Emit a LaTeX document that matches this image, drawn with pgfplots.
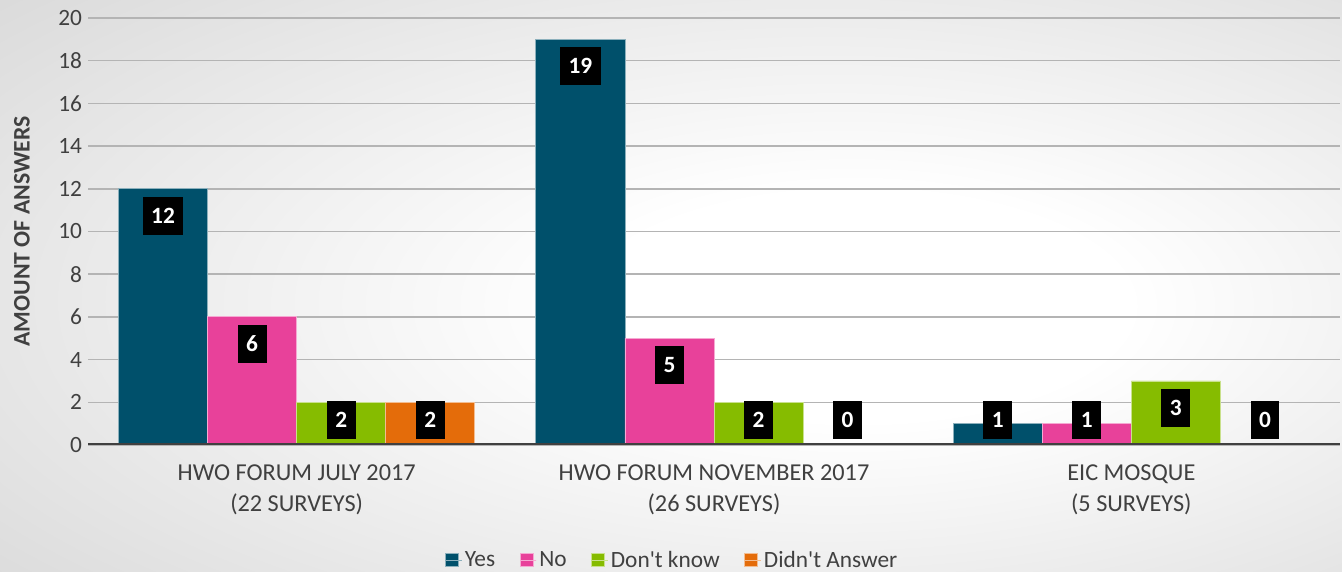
\documentclass[border=0pt]{standalone}
\usepackage{pgfplots}
\pgfplotsset{compat=1.18}
\usepackage{pgfplotstable}
\usepackage{fontspec}
\setmainfont{Carlito}[Ligatures=TeXOff]
\definecolor{cyes}{HTML}{00506B}
\definecolor{cno}{HTML}{E8419A}
\definecolor{cdk}{HTML}{86BC00}
\definecolor{cda}{HTML}{E46C0A}
\definecolor{txtgray}{HTML}{404040}
\definecolor{gridgray}{HTML}{B4B4B4}
\pgfdeclareradialshading{bgshade}{\pgfpoint{8bp}{-2bp}}{color(0bp)=(white); color(10bp)=(white); color(55bp)=(black!22); color(80bp)=(black!22)}
\pgfplotstableread{
x yes no dk da
0 12 6 2 2
1 19 5 2 0
2 1 1 3 0
}\data
\newcommand{\fs}{\fontsize{17.5}{21}\selectfont}
\begin{document}
\begin{tikzpicture}
\shade[shading=bgshade] (0,0) rectangle (1006.5pt,429pt);
\begin{axis}[
  at={(66pt,95.25pt)}, anchor=south west,
  scale only axis, width=939pt, height=320.25pt,
  xmin=-0.5, xmax=2.5, ymin=0, ymax=20,
  ytick={0,2,...,20}, xtick={0,1,2},
  xticklabels={{HWO FORUM JULY 2017\\(22 SURVEYS)},{HWO FORUM NOVEMBER 2017\\(26 SURVEYS)},{EIC MOSQUE\\(5 SURVEYS)}},
  ymajorgrids, grid style={color=gridgray, line width=1.1pt},
  axis line style={draw=none}, major tick length=0pt,
  /pgf/number format/assume math mode=true,
  tick label style={font=\fs, text=txtgray},
  yticklabel style={xshift=-1pt},
  xticklabel style={align=center, font=\fontsize{18.2}{23.25}\selectfont, yshift=-11.5pt},
  ylabel={AMOUNT OF ANSWERS},
  ylabel style={at={(axis description cs:-0.0527,0.5)}, anchor=center, font=\bfseries\fontsize{17.8}{21}\selectfont, text=txtgray},
  ybar, bar width=0.2135,
  legend style={at={(axis description cs:0.467,-0.27)}, anchor=center, draw=none, fill=none,
    legend columns=4, font=\fs, text=txtgray,
    /tikz/every even column/.append style={column sep=16.5pt}},
  legend image code/.code={\fill[#1] (0pt,-4.875pt) rectangle (9.75pt,4.875pt); \path (0pt,0pt) -- (12pt,0pt);},
  lbl/.style={visualization depends on={\thisrow{#1} \as \rawy}, nodes near coords,
    nodes near coords align={center},
    nodes near coords style={anchor=center, fill=black, text=white, font=\bfseries\fs,
      inner xsep=6.4pt, inner ysep=0pt, minimum height=28.5pt,
      yshift={-min(20.25,16.0125*\rawy-18.75)}}},
]
\addplot[fill=cyes, draw=cyes!45!white, line width=0.6pt, bar shift=-0.32025, lbl=yes] table[x=x,y=yes]{\data};
\addplot[fill=cno, draw=cno!45!white, line width=0.6pt, bar shift=-0.10675, lbl=no] table[x=x,y=no]{\data};
\addplot[fill=cdk, draw=cdk!45!white, line width=0.6pt, bar shift=0.10675, lbl=dk] table[x=x,y=dk]{\data};
\addplot[fill=cda, draw=cda!45!white, line width=0.6pt, bar shift=0.32025, lbl=da] table[x=x,y=da]{\data};
\legend{Yes,No,Don't know,Didn't Answer}
\draw[line width=3pt, color=txtgray] (axis cs:-0.5,0) -- (axis cs:2.5,0);
\end{axis}
\end{tikzpicture}
\end{document}
